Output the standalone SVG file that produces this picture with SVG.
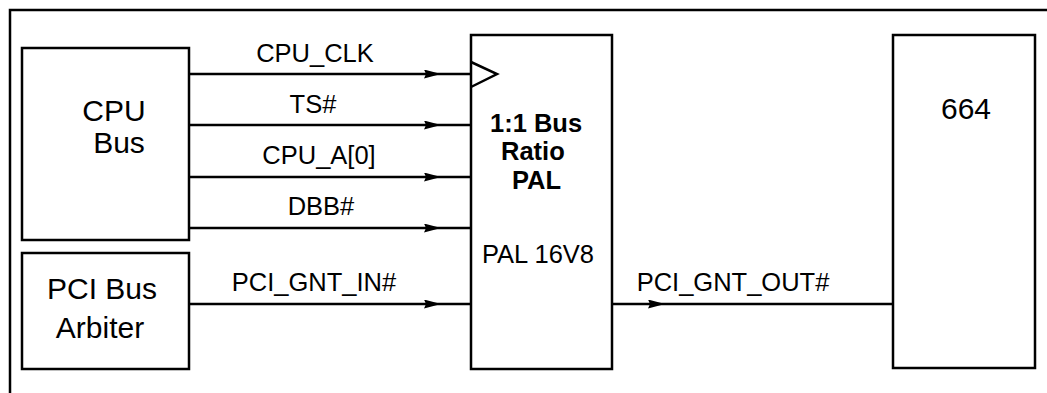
<svg xmlns="http://www.w3.org/2000/svg" width="1047" height="393" viewBox="0 0 1047 393">
<style>
.box{fill:#fff;stroke:#000;stroke-width:2.5}
.wire{fill:none;stroke:#000;stroke-width:2.5}
.big{font-family:"Liberation Sans",Arial,sans-serif;font-size:30px;fill:#000;text-anchor:middle}
.lbl{font-family:"Liberation Sans",Arial,sans-serif;font-size:25.5px;fill:#000;text-anchor:middle}
.bold{font-family:"Liberation Sans",Arial,sans-serif;font-size:25.5px;font-weight:bold;fill:#000}
</style>
<defs>
<marker id="arr" viewBox="0 0 17 9" refX="17" refY="4.5" markerWidth="17" markerHeight="9" markerUnits="userSpaceOnUse" orient="auto">
<path d="M0,0 L17,4.5 L0,9 L2,4.5 z" fill="#000"/>
</marker>
</defs>
<rect width="1047" height="393" fill="#fff"/>
<path class="wire" d="M10,393 V10 H1047"/>
<g id="cpu-bus">
<rect class="box" x="22" y="48" width="167" height="192"/>
<text class="big" x="114" y="121">CPU</text>
<text class="big" x="119" y="153">Bus</text>
</g>
<g id="pci-arbiter">
<rect class="box" x="22" y="253" width="167" height="116"/>
<text class="big" x="102" y="299">PCI Bus</text>
<text class="big" x="100" y="338">Arbiter</text>
</g>
<g id="pal">
<rect class="box" x="471" y="35" width="141" height="334"/>
<polyline class="wire" points="471,62 497,74 471,87"/>
<text class="bold" x="490" y="132">1:1 Bus</text>
<text class="bold" x="501" y="160">Ratio</text>
<text class="bold" x="512" y="189">PAL</text>
<text class="lbl" x="538" y="263">PAL 16V8</text>
</g>
<g id="chip-664">
<rect class="box" x="893" y="35" width="142" height="333"/>
<text class="big" x="966" y="119">664</text>
</g>
<g id="connectors">
<path class="wire" d="M189,74 L441,74 L471,74" marker-mid="url(#arr)"/>
<path class="wire" d="M189,125 L441,125 L471,125" marker-mid="url(#arr)"/>
<path class="wire" d="M189,177 L441,177 L471,177" marker-mid="url(#arr)"/>
<path class="wire" d="M189,228 L441,228 L471,228" marker-mid="url(#arr)"/>
<path class="wire" d="M189,304 L441,304 L471,304" marker-mid="url(#arr)"/>
<path class="wire" d="M612,304 L665,304 L893,304" marker-mid="url(#arr)"/>
<text class="lbl" x="315" y="62">CPU_CLK</text>
<text class="lbl" x="313" y="113">TS#</text>
<text class="lbl" x="319" y="164">CPU_A[0]</text>
<text class="lbl" x="321" y="215">DBB#</text>
<text class="lbl" x="314" y="291">PCI_GNT_IN#</text>
<text class="lbl" x="733" y="291">PCI_GNT_OUT#</text>
</g>
</svg>
